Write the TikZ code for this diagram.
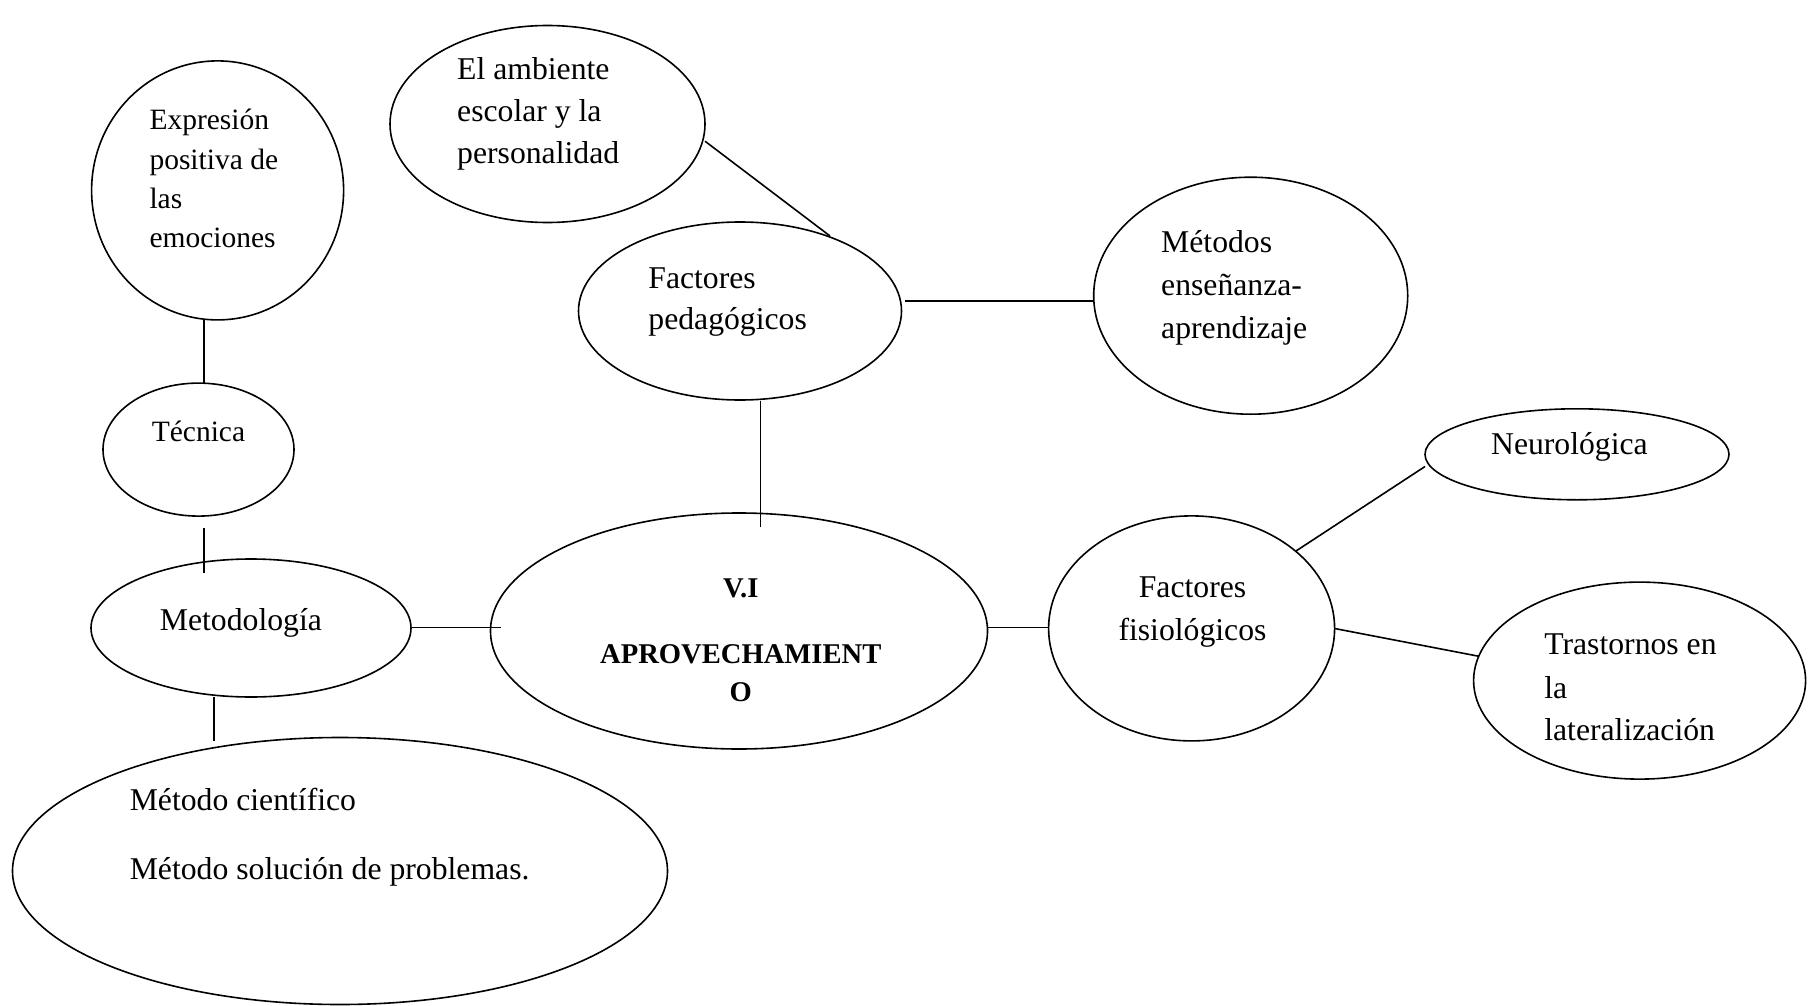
\documentclass[tikz,border=0pt]{standalone}
\usepackage{fontspec}
\setmainfont{Liberation Serif}
\usetikzlibrary{shapes.geometric}
\begin{document}
\begin{tikzpicture}[x=1pt,y=-1pt,
  bub/.style={draw,ellipse,line width=1.6pt,inner sep=0pt},
  txt/.style={anchor=base west,inner sep=0pt,font=\fontsize{31.7}{38}\selectfont},
  txts/.style={anchor=base west,inner sep=0pt,font=\fontsize{29.5}{36}\selectfont},
  txtc/.style={anchor=base,inner sep=0pt,font=\fontsize{31.7}{38}\selectfont},
  txtb/.style={anchor=base,inner sep=0pt,font=\fontsize{28.6}{36}\selectfont\bfseries},
  con/.style={line width=1.6pt}]
\useasboundingbox (0,0) rectangle (1815,1006);
% ellipses
\node[bub,minimum width=252pt,minimum height=259pt] (expr) at (217.6,190.4) {};
\node[bub,minimum width=191pt,minimum height=133pt] (tec) at (198.5,449.6) {};
\node[bub,minimum width=320pt,minimum height=138pt] (metod) at (251,628) {};
\node[bub,minimum width=655pt,minimum height=267pt] (metci) at (340,871) {};
\node[bub,minimum width=315pt,minimum height=197pt] (amb) at (547.5,124) {};
\node[bub,minimum width=323pt,minimum height=178pt] (fped) at (740,311) {};
\node[bub,minimum width=314pt,minimum height=237pt] (metens) at (1250.7,295.7) {};
\node[bub,minimum width=497pt,minimum height=236pt] (vi) at (739,631) {};
\node[bub,minimum width=286pt,minimum height=225pt] (ffis) at (1191.6,628.4) {};
\node[bub,minimum width=304pt,minimum height=91pt] (neuro) at (1577,454.3) {};
\node[bub,minimum width=332pt,minimum height=197pt] (tras) at (1639.6,680.6) {};
% texts
\node[txts] (e1) at (149.3,129.6) {Expresión};
\node[txts] (e2) at (149.3,169.0) {positiva de};
\node[txts] (e3) at (149.3,208.4) {las};
\node[txts] (e4) at (149.3,247.7) {emociones};
\node[txts] (t1) at (151.6,441) {Técnica};
\node[txt] (m1) at (159.7,630.8) {Metodología};
\node[txt] (mc1) at (129.6,810.3) {Método científico};
\node[txt] (mc2) at (129.6,879.7) {Método solución de problemas.};
\node[txt] (a1) at (457,79.9) {El ambiente};
\node[txt] (a2) at (457,121.5) {escolar y la};
\node[txt] (a3) at (457,163.2) {personalidad};
\node[txt] (p1) at (648.2,288.2) {Factores};
\node[txt] (p2) at (648.2,329.9) {pedagógicos};
\node[txt] (me1) at (1161,252.3) {Métodos};
\node[txt] (me2) at (1161,295.2) {enseñanza-};
\node[txt] (me3) at (1161,338) {aprendizaje};
\node[txtb] (v1) at (740.8,597.3) {V.I};
\node[txtb] (v2) at (740.8,663.2) {APROVECHAMIENT};
\node[txtb] (v3) at (740.8,701.4) {O};
\node[txtc] (f1) at (1192.5,597.3) {Factores};
\node[txtc] (f2) at (1192.5,640.1) {fisiológicos};
\node[txt] (n1) at (1490.9,454.9) {Neurológica};
\node[txt] (tr1) at (1544.1,654) {Trastornos en};
\node[txt] (tr2) at (1544.1,698) {la};
\node[txt] (tr3) at (1544.1,740.8) {lateralización};
% connector end points
\coordinate (k1a) at (203.7,319.5); \coordinate (k1b) at (203.7,383);
\coordinate (k2a) at (203.7,527.8); \coordinate (k2b) at (203.7,573);
\coordinate (k3a) at (214,697); \coordinate (k3b) at (214,741);
\coordinate (k4a) at (411,627.4); \coordinate (k4b) at (501,627.4);
\coordinate (k5a) at (705,141.2); \coordinate (k5b) at (830,236);
\coordinate (k6a) at (905,301); \coordinate (k6b) at (1094,301);
\coordinate (k7a) at (760.5,400.5); \coordinate (k7b) at (760.5,526.7);
\coordinate (k8a) at (987.3,627.4); \coordinate (k8b) at (1048.7,627.4);
\coordinate (k9a) at (1296,551); \coordinate (k9b) at (1425,466.5);
\coordinate (k10a) at (1334.6,628.5); \coordinate (k10b) at (1479,656.3);
\draw[con] (k1a) -- (k1b);
\draw[con] (k2a) -- (k2b);
\draw[con] (k3a) -- (k3b);
\draw[con] (k4a) -- (k4b);
\draw[con] (k5a) -- (k5b);
\draw[con] (k6a) -- (k6b);
\draw[con] (k7a) -- (k7b);
\draw[con] (k8a) -- (k8b);
\draw[con] (k9a) -- (k9b);
\draw[con] (k10a) -- (k10b);
\end{tikzpicture}
\end{document}
